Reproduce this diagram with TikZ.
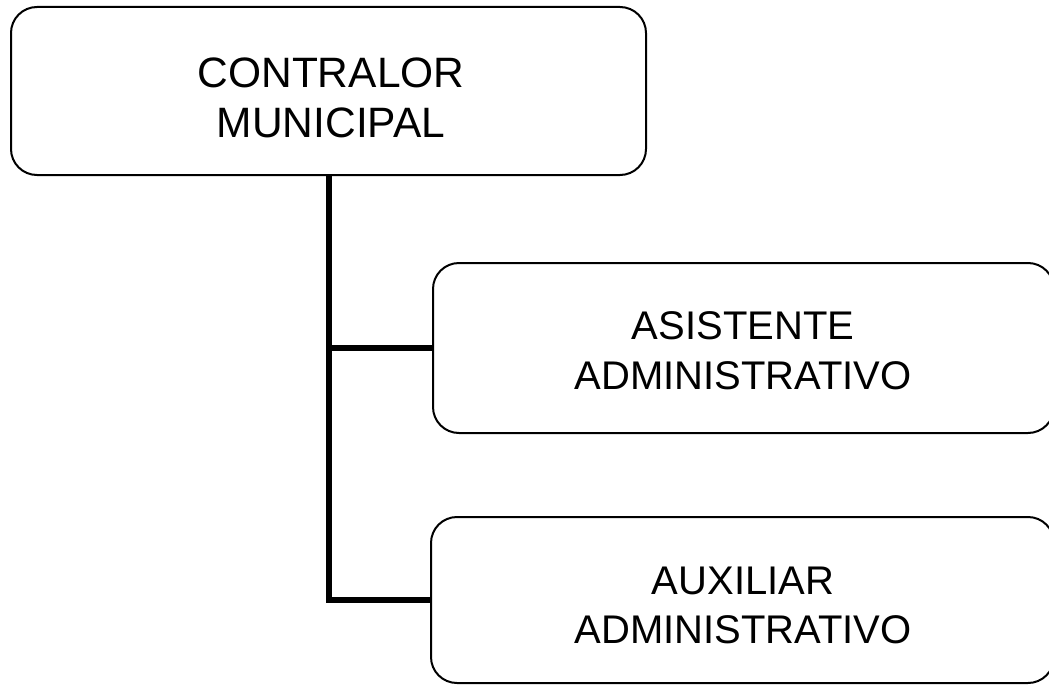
\documentclass[tikz,border=0pt]{standalone}
\usepackage{fontspec}
\setmainfont{Liberation Sans}
\begin{document}
\begin{tikzpicture}[x=1pt,y=-1pt,
  box/.style={draw=black,line width=2pt,rounded corners=26pt,inner sep=0pt,fill=white},
  lbl/.style={align=center,font=\fontsize{40}{49.5}\selectfont,inner sep=0pt},
  conn/.style={draw=black,line width=6pt}]
\useasboundingbox[fill=white] (0,0) rectangle (1049,685);
\node[box,minimum width=635pt,minimum height=168pt] (c) at (328.5,91) {};
\node[box,minimum width=621pt,minimum height=170pt] (b2) at (743.5,348) {};
\node[box,minimum width=623pt,minimum height=166pt] (b3) at (742.5,600) {};
\node[lbl,font=\fontsize{42.5}{50}\selectfont] (tc) at (331,97.5) {CONTRALOR\\MUNICIPAL};
\node[lbl] (t2) at (743,350.5) {ASISTENTE\\ADMINISTRATIVO};
\node[lbl] (t3) at (743,605.5) {AUXILIAR\\ADMINISTRATIVO};
\draw[conn] (c.south) |- (b3.west);
\draw[conn] (c.south |- b2.west) -- (b2.west);
\end{tikzpicture}
\end{document}
